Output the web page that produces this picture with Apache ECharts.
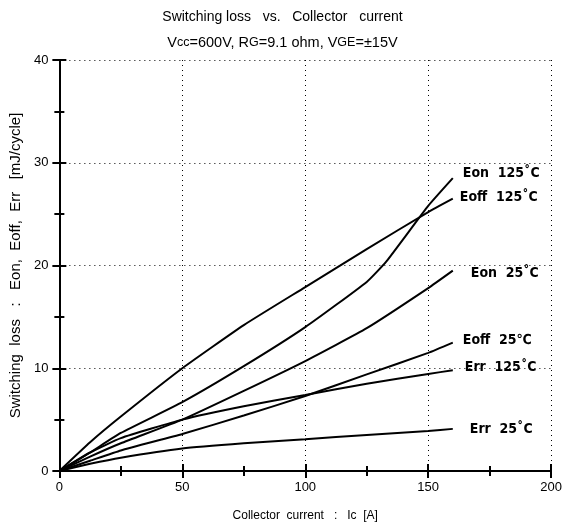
<!DOCTYPE html>
<html><head><meta charset="utf-8">
<script src="https://cdn.jsdelivr.net/npm/echarts@6/dist/echarts.min.js"></script>
<style>html,body{margin:0;padding:0;background:#fff}#c{width:565px;height:527px}</style>
</head><body><div id="c"></div>
<script>
var eon125 = [[0,0],[12.5,1.8],[25,3.7],[50,6.7],[75,10.2],[100,14.0],[125,18.4],[133,20.4],[150,25.8],[160,28.5]];
var eoff125 = [[0,0],[12.5,2.8],[25,5.3],[50,10.0],[75,14.2],[100,17.9],[125,21.6],[150,25.2],[160,26.5]];
var eon25 = [[0,0],[12.5,1.4],[25,2.7],[50,5.0],[75,7.8],[100,10.7],[125,13.9],[150,17.8],[160,19.5]];
var eoff25 = [[0,0],[12.5,1.0],[25,2.0],[50,3.6],[75,5.4],[100,7.3],[125,9.4],[150,11.5],[160,12.5]];
var err125 = [[0,0],[12.5,1.8],[25,3.2],[50,5.0],[75,6.3],[100,7.4],[125,8.5],[150,9.45],[160,9.8]];
var err25 = [[0,0],[12.5,0.7],[25,1.3],[50,2.2],[75,2.7],[100,3.1],[125,3.5],[150,3.9],[160,4.1]];
var names = ['Eon  125˚C','Eoff  125˚C','Eon  25˚C','Eoff  25℃','Err  125˚C','Err  25˚C'];
var xTicks = [0,50,100,150,200];
var yTicks = [0,10,20,30,40];

var chart = echarts.init(document.getElementById('c'));
var lblFont = {fontFamily:'DejaVu Sans Condensed, Liberation Sans Narrow, sans-serif', fontWeight:'bold', fontSize:14, color:'#000'};
function ser(name, data, off){
  return {type:'line', name:name, data:data, showSymbol:false, symbol:'none', smooth:0.15,
    lineStyle:{color:'#000', width:2}, xAxisIndex:0, yAxisIndex:0,
    endLabel:Object.assign({show:true, formatter:name, distance:0, offset:off}, lblFont)};
}
var ff = 'Liberation Sans, Arial, sans-serif';
var ax = {fontFamily:ff, fontSize:13, color:'#000'};
chart.setOption({
  animation:false,
  title:{left:'center', top:5, itemGap:11,
    text:'Switching loss   vs.   Collector   current',
    subtext:'V{s|cc}=600V, R{s|G}=9.1 ohm, V{s|GE}=±15V',
    textStyle:{fontFamily:ff, fontSize:14, fontWeight:'normal', color:'#000'},
    subtextStyle:{fontFamily:ff, fontSize:14.5, color:'#000', rich:{s:{fontSize:12.5, color:'#000', fontFamily:ff}}}
  },
  grid:{left:58, right:13, top:60, bottom:52},
  xAxis:[{type:'value', min:0, max:200, interval:50,
    name:'Collector  current   :   Ic  [A]', nameLocation:'middle', nameGap:39,
    nameTextStyle:{fontFamily:ff, fontSize:12, color:'#000'},
    axisLine:{lineStyle:{color:'#000', width:2}},
    axisTick:{inside:true, length:7, lineStyle:{color:'#000', width:2}},
    minorTick:{show:true, splitNumber:2, length:5, lineStyle:{color:'#000', width:2}},
    axisLabel:Object.assign({margin:10, formatter:function(v){return xTicks.indexOf(v)>=0?String(v):'';}}, ax),
    splitLine:{show:true, lineStyle:{color:'#000', type:[1,4], width:1}}},
   {type:'value', min:0, max:200, interval:50, position:'top',
    axisLine:{lineStyle:{color:'#000', width:2}},
    axisTick:{inside:true, length:7, lineStyle:{color:'#000', width:2}},
    minorTick:{show:true, splitNumber:2, length:5, lineStyle:{color:'#000', width:2}},
    axisLabel:{show:false}, splitLine:{show:false}}],
  yAxis:[{type:'value', min:0, max:40, interval:10,
    name:'Switching  loss   :   Eon,  Eoff,  Err   [mJ/cycle]', nameLocation:'middle', nameGap:33,
    nameTextStyle:{fontFamily:ff, fontSize:15, color:'#000'},
    axisLine:{lineStyle:{color:'#000', width:2}},
    axisTick:{inside:true, length:7, lineStyle:{color:'#000', width:2}},
    minorTick:{show:true, splitNumber:2, length:5, lineStyle:{color:'#000', width:2}},
    axisLabel:Object.assign({margin:11, formatter:function(v){return yTicks.indexOf(v)>=0?String(v):'';}}, ax),
    splitLine:{show:true, lineStyle:{color:'#000', type:[1,4], width:1}}},
   {type:'value', min:0, max:40, interval:10, position:'right',
    axisLine:{show:true, lineStyle:{color:'#000', width:2}},
    axisTick:{show:true, inside:true, length:7, lineStyle:{color:'#000', width:2}},
    minorTick:{show:true, splitNumber:2, length:5, lineStyle:{color:'#000', width:2}},
    axisLabel:{show:false}, splitLine:{show:false}}],
  series:[
    ser(names[0], eon125, [10,-5]),
    ser(names[1], eoff125, [7,-1]),
    ser(names[2], eon25, [18,3]),
    ser(names[3], eoff25, [10,-2]),
    ser(names[4], err125, [12,-3]),
    ser(names[5], err25, [17,0])
  ]
});
</script></body></html>
